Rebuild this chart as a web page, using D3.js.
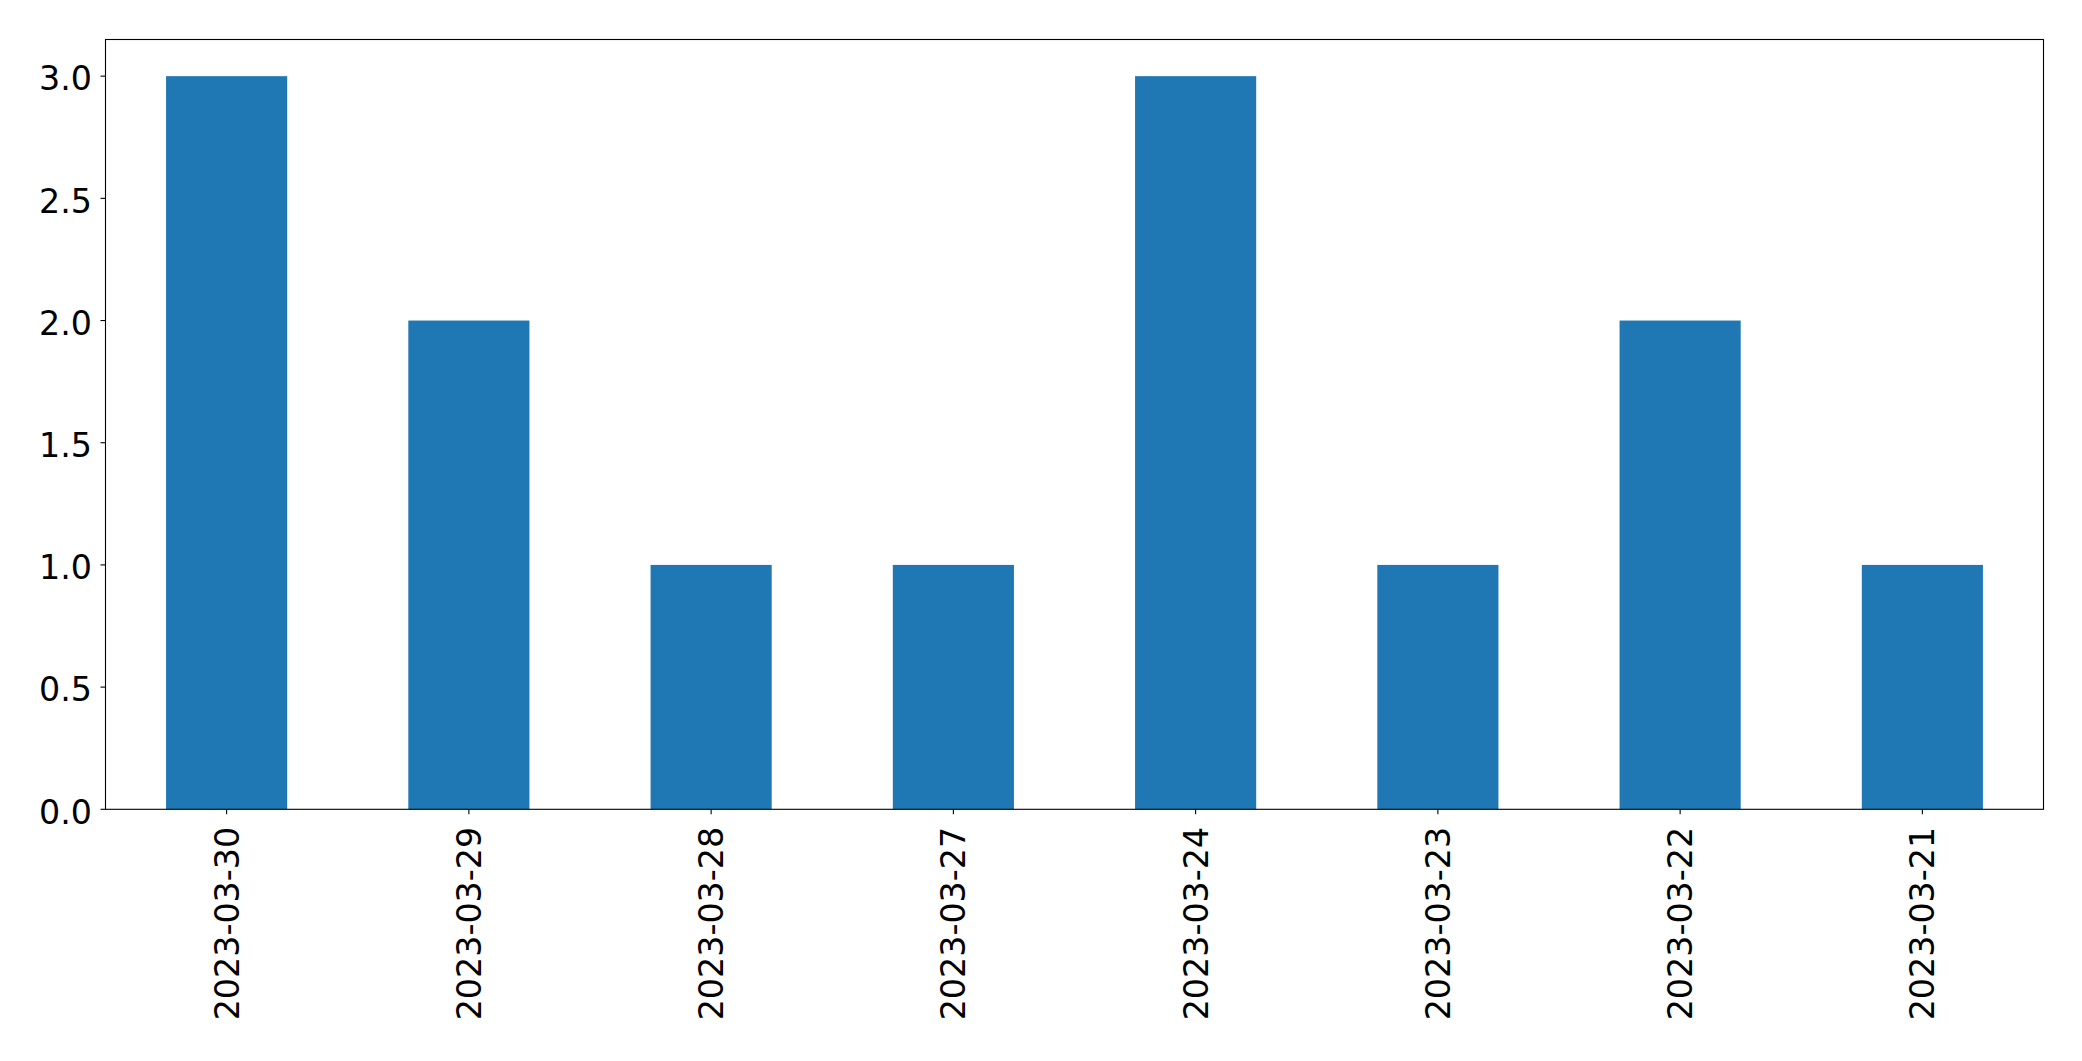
<!DOCTYPE html>
<html><head><meta charset="utf-8">
<script src="https://cdn.jsdelivr.net/npm/d3@7"></script>
<style>html,body{margin:0;padding:0;background:#fff;} svg{display:block;}</style>
</head><body>
<svg id="chart" width="2082" height="1061"></svg>
<script>
const categories = ["2023-03-30","2023-03-29","2023-03-28","2023-03-27","2023-03-24","2023-03-23","2023-03-22","2023-03-21"];
const values = [3,2,1,1,3,1,2,1];
const yTicks = [0,0.5,1.0,1.5,2.0,2.5,3.0];

const svg = d3.select("#chart");
const L = 105.5, R = 2043.5, T = 39.5, B = 809.3;
const fs = 33.3;
const font = "DejaVu Sans, sans-serif";

const x = d3.scaleLinear().domain([-0.5, categories.length - 0.5]).range([L, R]);
const y = d3.scaleLinear().domain([0, 3.15]).range([B, T]);

svg.append("g").selectAll("rect").data(values).join("rect")
  .attr("x", (d,i) => x(i - 0.25))
  .attr("width", (d,i) => x(i + 0.25) - x(i - 0.25))
  .attr("y", d => y(d))
  .attr("height", d => y(0) - y(d))
  .attr("fill", "#1f77b4");

svg.append("rect").attr("x", L).attr("y", T).attr("width", R-L).attr("height", B-T)
  .attr("fill", "none").attr("stroke", "#000").attr("stroke-width", 1.1);

const yg = svg.append("g");
yTicks.forEach(t => {
  yg.append("line").attr("x1", L - 5).attr("x2", L).attr("y1", y(t)).attr("y2", y(t))
    .attr("stroke", "#000").attr("stroke-width", 1.1);
  yg.append("text").attr("x", L - 13.5).attr("y", y(t)).attr("dy", "0.43em")
    .attr("text-anchor", "end").attr("font-family", font).attr("font-size", fs)
    .attr("fill", "#000").text(d3.format(".1f")(t));
});

const xg = svg.append("g");
categories.forEach((c, i) => {
  xg.append("line").attr("x1", x(i)).attr("x2", x(i)).attr("y1", B).attr("y2", B + 5)
    .attr("stroke", "#000").attr("stroke-width", 1.1);
  xg.append("text")
    .attr("transform", `translate(${x(i)},${B + 17.5}) rotate(-90)`)
    .attr("dy", "0.36em").attr("text-anchor", "end")
    .attr("font-family", font).attr("font-size", fs).attr("fill", "#000").text(c);
});
</script>
</body></html>
